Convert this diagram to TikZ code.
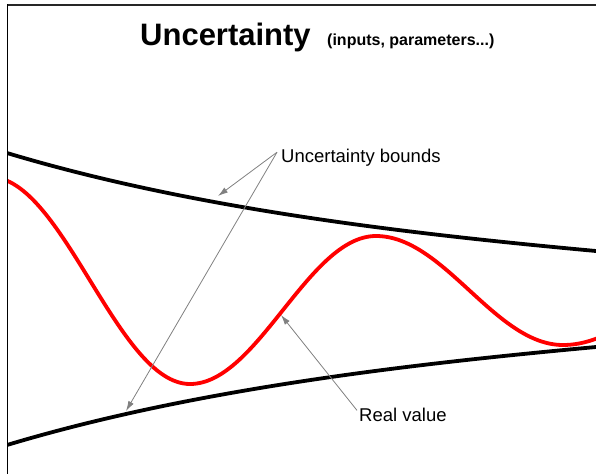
\documentclass[tikz,border=0pt]{standalone}
\usepackage{fontspec}
\setmainfont{Liberation Sans}
\usetikzlibrary{arrows.meta}

\begin{document}
\begin{tikzpicture}[
    x=1pt, y=-1pt,
    bnd/.style={line width=3.8pt},
    val/.style={line width=3.8pt, red},
    lbl/.style={font=\fontsize{18.5}{22}\selectfont, anchor=base west, inner sep=0pt},
    pnt/.style={-{Latex[length=10pt,width=6pt]}, gray, line width=0.8pt}
  ]
    \useasboundingbox (0,0) rectangle (596,474);
    \draw[line width=2pt, black!85] (596,5) -- (7.5,5);
    \draw[line width=1.5pt] (7.5,4) -- (7.5,474);

    \node[anchor=base west, inner sep=0pt, font=\bfseries\fontsize{31}{36}\selectfont] (title) at (140,45) {Uncertainty};
    \node[anchor=base west, inner sep=0pt, font=\bfseries\fontsize{16}{19}\selectfont] (sub) at (327,45) {(inputs, parameters...)};

    \begin{scope}
      \clip (8,6) rectangle (596,474);
      \draw[bnd] (7,153) .. controls (190,208) and (400,233) .. (596,251);
      \draw[bnd] (7,445) .. controls (190,390) and (400,365) .. (596,347);
      \draw[val] (-10,177) .. controls (62.8,177) and (117.2,384) .. (190,384)
        .. controls (257.7,384) and (308.3,236) .. (376,236)
        .. controls (444,236) and (495,345) .. (563,345)
        .. controls (631,345) and (682,262) .. (750,262);
    \end{scope}

    \coordinate (up) at (218,196);
    \coordinate (lo) at (126,411);
    \coordinate (rv) at (281,315);

    \node[lbl] (bounds) at (281,162) {Uncertainty bounds};
    \node[lbl] (real) at (359,421) {Real value};

    \draw[pnt] ([shift={(-4,-5)}]bounds.west) -- (up);
    \draw[pnt] ([shift={(-4,-5)}]bounds.west) -- (lo);
    \draw[pnt] ([shift={(-2,-4)}]real.west) -- (rv);
\end{tikzpicture}
\end{document}
